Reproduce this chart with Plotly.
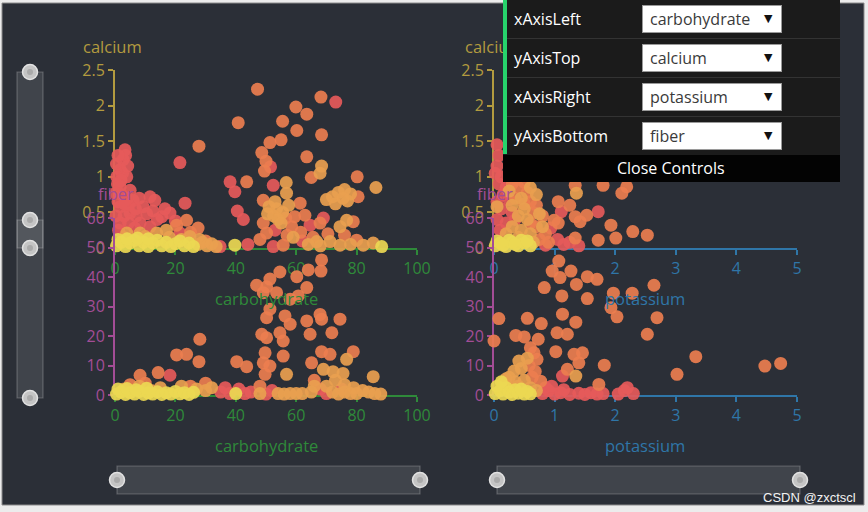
import plotly.graph_objects as go

W, H = 868, 512
FONT = "Open Sans, DejaVu Sans, sans-serif"

# ---------------- data ----------------
x_left_name = "carbohydrate"
x_right_name = "potassium"
y_top_name = "calcium"
y_bottom_name = "fiber"

carb_ticks = [0, 20, 40, 60, 80, 100]
pot_ticks = [0, 1, 2, 3, 4, 5]
calcium_ticks = [0, 0.5, 1, 1.5, 2, 2.5]
fiber_ticks = [0, 10, 20, 30, 40, 50, 60]

control_labels = ["xAxisLeft", "yAxisTop", "xAxisRight", "yAxisBottom"]
control_values = ["carbohydrate", "calcium", "potassium", "fiber"]
close_label = "Close Controls"
watermark = "CSDN @zxctscl"

# top-left: [carbohydrate, calcium]
tl_red = [[3.3, 1.38], [2.7, 1.24], [0.5, 1.18], [1.7, 1.10], [2.5, 1.05], [0.6, 1.00], [3.9, 1.00],
          [2.0, 0.95], [0.8, 0.90], [1.7, 0.86], [5.0, 0.81], [0.2, 0.77], [11.6, 0.72], [4.0, 0.70],
          [6.0, 0.67], [13.2, 0.67], [1.0, 0.65], [23.2, 0.63], [4.5, 0.60], [9.3, 0.58], [1.7, 0.58],
          [5.0, 0.49], [18.2, 0.49], [3.0, 0.45], [7.0, 0.45], [15.5, 0.44], [14.0, 0.40], [20.0, 0.38],
          [1.7, 0.35], [8.3, 0.35], [11.6, 0.30], [6.5, 0.28], [21.5, 1.20], [21.5, 0.21], [34.8, 0.02],
          [38.1, 0.93], [39.7, 0.79], [40.5, 0.52], [42.5, 0.40], [51.5, 1.14], [52.4, 0.88], [53.0, 0.25],
          [52.4, 0.02], [64.6, 0.32], [69.0, 0.42], [62.0, 0.10], [73.1, 2.05], [1.2, 0.25], [2.8, 0.15],
          [44.0, 0.05], [3.5, 1.30], [1.0, 1.30], [4.2, 1.15], [2.2, 0.75], [3.2, 0.62], [6.8, 0.55],
          [8.0, 0.70], [10.5, 0.48], [12.5, 0.52], [16.5, 0.55], [4.5, 0.35], [0.3, 0.45]]
tl_orange = [[23.7, 0.39], [20.4, 0.32], [27.5, 0.28], [27.8, 1.43], [47.2, 2.23], [68.2, 2.12], [59.9, 1.98],
             [63.5, 1.88], [40.8, 1.76], [55.5, 1.78], [60.2, 1.65], [68.4, 1.59], [51.3, 1.48], [55.0, 1.52],
             [48.6, 1.34], [50.0, 1.22], [49.5, 1.08], [63.5, 1.28], [65.0, 0.99], [80.2, 1.00], [43.6, 0.93],
             [49.1, 0.67], [61.3, 0.63], [62.9, 0.46], [67.9, 0.35], [65.6, 0.15], [56.5, 0.42], [59.5, 0.44],
             [58.5, 0.30], [49.1, 0.35], [50.2, 0.21], [57.0, 0.18], [61.5, 0.22], [55.7, 0.04], [48.0, 0.12],
             [80.5, 0.72], [78.9, 0.37], [80.0, 0.11], [70.5, 0.20], [76.0, 0.18], [25.0, 0.22], [30.0, 0.10]]
tl_light = [[17.0, 0.25], [13.8, 0.21], [8.3, 0.21], [3.9, 0.21], [24.8, 0.16], [10.0, 0.16], [18.0, 0.15],
            [28.0, 0.12], [68.4, 1.15], [67.9, 1.05], [86.4, 0.85], [56.7, 0.92], [56.8, 0.77], [66.8, 0.09],
            [51.0, 0.58], [53.5, 0.55], [55.5, 0.50], [52.5, 0.45], [57.5, 0.60], [54.0, 0.40], [50.5, 0.48],
            [53.0, 0.65], [55.0, 0.35], [59.0, 0.15], [72.0, 0.72], [74.0, 0.78], [76.0, 0.82], [78.0, 0.76],
            [70.0, 0.68], [77.0, 0.66], [73.0, 0.62], [75.5, 0.70], [74.5, 0.30], [76.7, 0.39], [71.2, 0.09],
            [74.5, 0.04], [82.2, 0.04], [85.5, 0.07], [64.0, 0.05], [68.0, 0.03], [78.0, 0.05], [27.5, 0.05],
            [29.0, 0.08], [30.5, 0.03], [32.0, 0.06], [22.0, 0.12], [33.5, 0.02]]
tl_yellow = [[0.5, 0.03], [2.0, 0.08], [3.5, 0.02], [5.0, 0.07], [6.5, 0.11], [8.0, 0.03], [9.5, 0.08],
             [11.0, 0.02], [12.5, 0.07], [14.0, 0.11], [15.5, 0.03], [17.0, 0.08], [18.5, 0.02], [20.0, 0.06],
             [21.5, 0.10], [23.0, 0.03], [24.5, 0.07], [26.0, 0.02], [1.0, 0.12], [4.0, 0.13], [7.5, 0.14],
             [11.0, 0.13], [39.7, 0.04], [88.3, 0.02]]

# top-right: [potassium, calcium]
tr_red = [[0.05, 1.45], [0.08, 1.30], [0.05, 1.15], [0.12, 1.00], [0.08, 0.90], [0.20, 0.85], [0.15, 0.75],
          [0.05, 0.65], [0.25, 0.68], [0.12, 0.55], [0.30, 0.50], [0.05, 0.40], [0.20, 0.35], [0.35, 0.40],
          [1.11, 0.51], [1.72, 0.51], [0.94, 0.28], [1.05, 0.12], [1.15, 0.05], [1.40, 0.03], [0.85, 0.04],
          [1.25, 0.08], [0.10, 0.25], [0.02, 1.05]]
tr_orange = [[1.34, 0.88], [1.80, 0.88], [2.19, 0.86], [2.11, 0.77], [1.06, 0.65], [1.25, 0.60], [1.34, 0.44],
             [1.53, 0.46], [1.42, 0.37], [0.99, 0.39], [1.06, 0.35], [1.93, 0.32], [2.29, 0.23], [2.53, 0.18],
             [2.01, 0.14], [1.72, 0.11], [1.34, 0.14], [0.90, 0.08], [0.40, 0.85], [0.55, 0.78], [0.60, 0.65],
             [0.70, 0.60], [0.65, 0.50], [0.80, 0.45], [0.70, 0.30], [0.85, 0.20], [0.75, 0.12], [0.35, 0.95],
             [0.50, 0.92], [0.30, 0.90], [0.35, 0.70], [0.50, 0.62], [0.60, 0.35]]
tr_light = [[1.36, 0.77], [0.45, 0.70], [0.50, 0.55], [0.40, 0.45], [0.55, 0.40], [0.30, 0.30], [0.45, 0.25],
            [0.60, 0.20], [0.20, 0.20], [0.05, 0.58], [0.65, 0.08], [0.30, 0.60], [0.25, 0.80], [0.60, 0.85],
            [0.70, 0.75], [0.75, 0.48], [0.40, 0.15], [0.80, 0.30]]
tr_yellow = [[0.02, 0.03], [0.10, 0.07], [0.20, 0.02], [0.30, 0.08], [0.40, 0.03], [0.50, 0.07], [0.60, 0.03],
             [0.05, 0.10], [0.25, 0.11], [0.45, 0.11], [0.15, 0.04], [0.35, 0.05], [0.55, 0.10]]

# bottom-left: [carbohydrate, fiber]
bl_red = [[18.2, 6.7], [35.0, 1.0], [38.0, 0.5], [41.0, 2.0], [43.0, 0.5], [50.0, 0.3], [52.0, 1.5],
          [68.0, 2.0], [70.0, 0.5], [75.0, 2.0], [36.5, 2.5], [45.0, 1.0]]
bl_orange = [[68.4, 45.8], [68.2, 42.0], [64.0, 42.4], [60.2, 40.1], [54.6, 41.7], [51.3, 39.3], [46.9, 37.2],
             [50.2, 36.7], [49.1, 34.7], [53.5, 34.7], [58.0, 32.5], [60.7, 33.6], [63.5, 36.4], [51.3, 29.1],
             [50.2, 26.2], [56.3, 26.8], [58.0, 24.0], [63.5, 25.1], [67.9, 27.3], [68.4, 25.7], [74.5, 25.7],
             [48.6, 20.6], [50.2, 19.4], [54.6, 21.1], [55.7, 18.3], [64.6, 20.6], [71.8, 21.1], [49.7, 14.3],
             [49.1, 10.9], [51.3, 9.8], [49.7, 7.0], [55.7, 13.2], [65.1, 10.9], [68.4, 14.7], [71.2, 13.8],
             [78.9, 14.7], [40.3, 11.3], [43.6, 9.6], [28.1, 18.9], [20.4, 13.6], [23.7, 13.8], [27.8, 11.3],
             [8.3, 6.7], [14.3, 7.6], [5.0, 3.5], [10.0, 4.0], [25.0, 3.0], [30.0, 4.0], [48.0, 3.0], [66.0, 5.0]]
bl_light = [[56.8, 7.0], [76.7, 12.1], [69.0, 8.7], [72.2, 7.9], [75.5, 7.3], [73.0, 5.0], [76.0, 3.5],
            [79.0, 2.5], [82.0, 1.5], [85.5, 6.2], [66.0, 3.0], [70.0, 3.0], [72.0, 1.0], [74.0, 0.3],
            [76.0, 1.0], [78.0, 0.5], [80.0, 0.5], [84.0, 1.0], [86.0, 0.5], [88.0, 0.3], [62.0, 0.5],
            [65.0, 1.0], [48.0, 0.5], [54.0, 0.5], [56.0, 0.3], [58.0, 0.5], [60.0, 0.5], [30.0, 1.5],
            [32.0, 2.5], [27.0, 2.0], [22.0, 3.0], [15.0, 2.5], [8.0, 3.0], [3.0, 2.0], [12.0, 1.5]]
bl_yellow = [[0.5, 0.3], [2.0, 1.0], [3.5, 0.2], [5.0, 0.8], [6.5, 0.3], [8.0, 1.2], [9.5, 0.2], [11.0, 0.7],
             [12.5, 0.3], [14.0, 1.1], [15.5, 0.2], [17.0, 0.8], [18.5, 0.3], [20.0, 1.2], [21.5, 0.4],
             [23.0, 0.8], [24.5, 0.2], [26.0, 0.9], [1.0, 2.0], [4.0, 2.2], [7.0, 1.8], [10.5, 2.3], [40.0, 0.5]]

# bottom-right: [potassium, fiber]
br_red = [[1.13, 6.4], [0.80, 0.5], [0.90, 1.5], [1.00, 0.3], [1.10, 0.8], [1.25, 0.2], [1.40, 0.6],
          [1.50, 0.2], [1.60, 0.8], [1.70, 0.3], [1.80, 0.5], [2.05, 0.3], [2.15, 1.5], [2.20, 2.5],
          [2.30, 0.5], [0.85, 2.5], [1.15, 1.8], [0.95, 3.0]]
br_orange = [[1.07, 45.4], [0.96, 42.0], [1.27, 42.0], [1.09, 39.8], [1.54, 40.1], [1.70, 39.2], [1.36, 37.5],
             [0.83, 36.4], [1.12, 33.6], [1.54, 32.7], [1.97, 34.5], [2.28, 34.5], [2.64, 37.2], [1.93, 29.6],
             [2.03, 26.5], [2.69, 26.2], [2.53, 20.6], [1.13, 27.4], [1.35, 24.7], [0.78, 24.2], [0.55, 26.0],
             [0.08, 25.9], [0.00, 18.3], [0.36, 20.2], [0.50, 19.7], [0.73, 18.9], [1.04, 21.1], [1.21, 20.6],
             [1.02, 14.7], [1.32, 13.8], [1.46, 14.3], [1.40, 10.9], [1.82, 10.1], [1.21, 8.7], [1.73, 3.6],
             [3.02, 7.0], [3.33, 13.0], [4.47, 9.8], [4.73, 10.7], [0.66, 14.3], [0.71, 12.1], [0.60, 16.0],
             [0.77, 4.7], [0.68, 8.0], [0.58, 10.0], [0.63, 6.0]]
br_light = [[1.35, 6.4], [0.41, 11.5], [0.33, 8.1], [0.45, 9.0], [0.25, 6.0], [0.50, 5.0], [0.40, 3.0],
            [0.60, 2.5], [0.15, 4.0], [0.70, 1.5], [0.30, 2.0], [0.55, 12.5], [0.35, 4.5], [0.20, 5.5]]
br_yellow = [[0.02, 0.5], [0.10, 1.5], [0.15, 0.3], [0.20, 2.5], [0.25, 1.0], [0.30, 0.2], [0.35, 1.8],
             [0.40, 0.6], [0.50, 0.3], [0.55, 1.2], [0.05, 3.0], [0.12, 4.5], [0.60, 0.4], [0.45, 2.0]]

# ---------------- styles ----------------
BG = "#2b2f37"
C_CARB = "#2f8a3a"
C_CAL = "#b39b3f"
C_FIB = "#a34d96"
C_POT = "#2f76a8"
C_RED, C_ORANGE, C_LIGHT, C_YELLOW = "#e65a5a", "#ec7e4f", "#e9a04f", "#ecd853"


def fx(p):
    return p / W


def fy(p):
    return 1 - p / H


LEFT_X = [fx(115), fx(417)]
RIGHT_X = [fx(494), fx(797)]
TOP_Y = [fy(248), fy(70)]
BOT_Y = [fy(395), fy(218)]

fig = go.Figure()


def add_group(points, color, xa, ya):
    fig.add_trace(go.Scatter(
        x=[p[0] for p in points], y=[p[1] for p in points], mode="markers",
        xaxis=xa, yaxis=ya, cliponaxis=False, hoverinfo="skip", showlegend=False,
        marker=dict(size=13, color=color, opacity=0.92, line=dict(width=0))))


panels = [
    ("x", "y", [tl_red, tl_orange, tl_light, tl_yellow]),
    ("x2", "y2", [tr_red, tr_orange, tr_light, tr_yellow]),
    ("x3", "y3", [bl_red, bl_orange, bl_light, bl_yellow]),
    ("x4", "y4", [br_red, br_orange, br_light, br_yellow]),
]
for xa, ya, groups in panels:
    for pts, col in zip(groups, [C_RED, C_ORANGE, C_LIGHT, C_YELLOW]):
        add_group(pts, col, xa, ya)


def axis(color, domain, rng, ticks, anchor, standoff=None):
    d = dict(domain=domain, range=rng, tickvals=ticks, anchor=anchor, showline=True,
             linecolor=color, linewidth=2, ticks="outside", ticklen=5, tickwidth=2,
             tickcolor=color, tickfont=dict(color=color, size=16, family=FONT),
             showgrid=False, zeroline=False, layer="below traces", fixedrange=True,
             automargin=False)
    if standoff is not None:
        d["ticklabelstandoff"] = standoff
    return d


fig.update_layout(
    template=None,
    width=W, height=H, autosize=False,
    margin=dict(l=0, r=0, t=0, b=0, pad=0, autoexpand=False),
    paper_bgcolor="#ececec", plot_bgcolor="rgba(0,0,0,0)",
    font=dict(family=FONT),
    showlegend=False,
    xaxis=axis(C_CARB, LEFT_X, [0, 100], carb_ticks, "y", 0),
    yaxis=axis(C_CAL, TOP_Y, [0, 2.5], calcium_ticks, "x"),
    xaxis2=axis(C_POT, RIGHT_X, [0, 5], pot_ticks, "y2", 0),
    yaxis2=axis(C_CAL, TOP_Y, [0, 2.5], calcium_ticks, "x2"),
    xaxis3=axis(C_CARB, LEFT_X, [0, 100], carb_ticks, "y3", 0),
    yaxis3=axis(C_FIB, BOT_Y, [0, 60], fiber_ticks, "x3"),
    xaxis4=axis(C_POT, RIGHT_X, [0, 5], pot_ticks, "y4", 0),
    yaxis4=axis(C_FIB, BOT_Y, [0, 60], fiber_ticks, "x4"),
)

shapes = []


def rect(x0, y0, x1, y1, fill, line="rgba(0,0,0,0)", lw=0, layer="below"):
    shapes.append(dict(type="rect", xref="paper", yref="paper", x0=fx(x0), x1=fx(x1),
                       y0=fy(y1), y1=fy(y0), fillcolor=fill, line=dict(color=line, width=lw),
                       layer=layer))


def handle(cx, cy, r=7.5):
    shapes.append(dict(type="circle", xref="paper", yref="paper", x0=fx(cx - r), x1=fx(cx + r),
                       y0=fy(cy + r), y1=fy(cy - r), fillcolor="#c4c4c4",
                       line=dict(color="#e2e2e2", width=1.5), layer="below"))
    shapes.append(dict(type="circle", xref="paper", yref="paper", x0=fx(cx - 3), x1=fx(cx + 3),
                       y0=fy(cy + 3), y1=fy(cy - 3), fillcolor="#a9a9a9",
                       line=dict(width=0), layer="below"))


# dark canvas
rect(2, 3, 864, 505, BG, "#8c8c8c", 1)
# vertical data-zoom sliders
SL_FILL = "rgba(255,255,255,0.10)"
SL_LINE = "rgba(255,255,255,0.22)"
rect(17, 72, 43, 248, SL_FILL, SL_LINE, 1.2)
rect(17, 220, 43, 398, SL_FILL, SL_LINE, 1.2)
# horizontal sliders
rect(117, 466, 420, 494, SL_FILL, SL_LINE, 1.2)
rect(497, 466, 800, 494, SL_FILL, SL_LINE, 1.2)
for cy in (72, 248, 220, 398):
    handle(30, cy)
for cx in (117, 420, 497, 800):
    handle(cx, 480)
fig.update_layout(shapes=shapes)

ann = []


def text(s, x, y, color, size=16.5, xanchor="center", family=FONT):
    ann.append(dict(text=s, x=fx(x), y=fy(y), xref="paper", yref="paper", showarrow=False,
                    xanchor=xanchor, yanchor="middle", font=dict(color=color, size=size, family=family)))


def box(x0, y0, x1, y1, color, border=None):
    d = dict(text=" ", x=fx((x0 + x1) / 2), y=fy((y0 + y1) / 2), xref="paper", yref="paper",
             showarrow=False, xanchor="center", yanchor="middle", width=x1 - x0, height=y1 - y0,
             bgcolor=color, borderpad=0, borderwidth=0, font=dict(size=1))
    if border:
        d.update(bordercolor=border, borderwidth=1, width=x1 - x0 - 2, height=y1 - y0 - 2)
    ann.append(d)


# axis names
text(y_top_name, 113, 46, C_CAL)
text(y_bottom_name, 116, 193, C_FIB)
text(y_top_name, 494, 46, C_CAL)
text(y_bottom_name, 495, 193, C_FIB)
text(x_left_name, 266, 298, C_CARB)
text(x_left_name, 266, 445, C_CARB)
text(x_right_name, 645, 298, C_POT)
text(x_right_name, 645, 445, C_POT)

# control panel
box(503, 0, 840, 155, "#1b1b1b")
box(503, 155, 840, 182, "#030303")
for sy in (38, 77, 116):
    box(507, sy, 840, sy + 1, "#333333")
box(503, 0, 507, 154, "#27d36c")
row_centers = [19, 58, 97, 136]
for lab, val, cy in zip(control_labels, control_values, row_centers):
    text(lab, 512, cy, "#ffffff", 16, xanchor="left")
    box(642, cy - 14, 782, cy + 14, "#ffffff", "#9a9a9a")
    text(val, 648, cy, "#3a3a3a", 16, xanchor="left")
    text("▼", 768, cy - 1, "#111111", 11, family="DejaVu Sans")
text(close_label, 671, 168, "#ffffff", 16)
text(watermark, 809, 497, "#f2f2f2", 13, family="Liberation Sans, Arial, sans-serif")

fig.update_layout(annotations=ann)

fig.write_html("out.html", post_script="document.body.style.margin='0';document.body.style.overflow='hidden';")
